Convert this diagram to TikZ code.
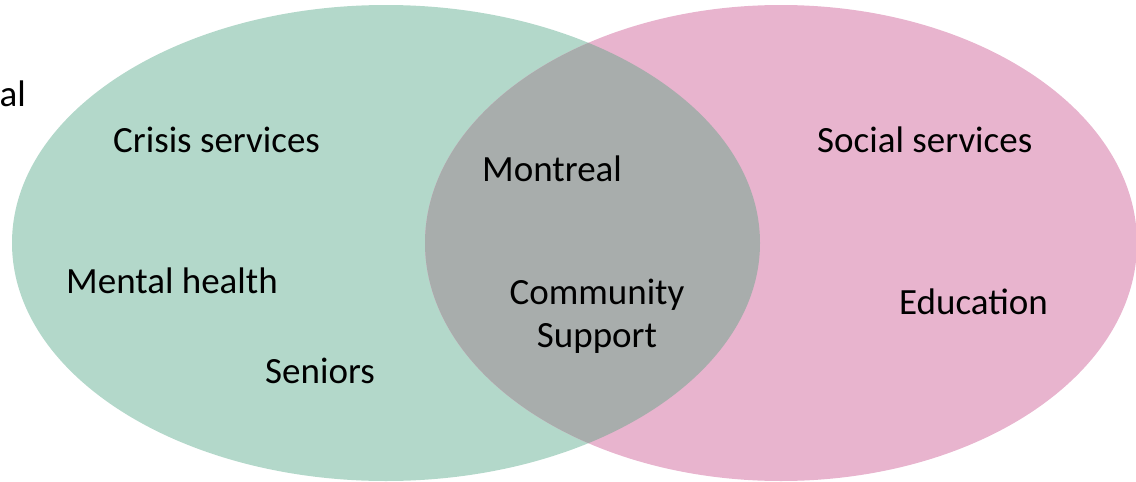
\documentclass[tikz,border=0pt]{standalone}
\usepackage{fontspec}
\setmainfont{Carlito}
\definecolor{vgreen}{HTML}{B3D8CA}
\definecolor{vpink}{HTML}{E8B4CE}
\definecolor{vgray}{HTML}{A8ADAC}
\begin{document}
\begin{tikzpicture}[x=1pt,y=-1pt,
  lbl/.style={inner sep=0pt, font=\fontsize{37}{43}\selectfont, text=black}]
\useasboundingbox (0,0) rectangle (1136,482);
% circles
\fill[vgreen] (386,243) ellipse [x radius=374, y radius=238];
\fill[vpink] (781,243) ellipse [x radius=356, y radius=238];
\begin{scope}
  \clip (386,243) ellipse [x radius=374, y radius=238];
  \fill[vgray] (781,243) ellipse [x radius=356, y radius=238];
\end{scope}
% labels
\node[lbl, anchor=base east] (cut) at (26,106) {al};
\node[lbl, anchor=base west] (crisis) at (113,152) {Crisis services};
\node[lbl, anchor=base west] (mental) at (66,293) {Mental health};
\node[lbl, anchor=base west] (seniors) at (265,383) {Seniors};
\node[lbl, anchor=base west] (montreal) at (482,181) {Montreal};
\node[lbl, align=center] (community) at (597,316) {Community\\Support};
\node[lbl, anchor=base west] (social) at (817,152) {Social services};
\node[lbl, anchor=base west] (education) at (899,314) {Education};
\end{tikzpicture}
\end{document}
